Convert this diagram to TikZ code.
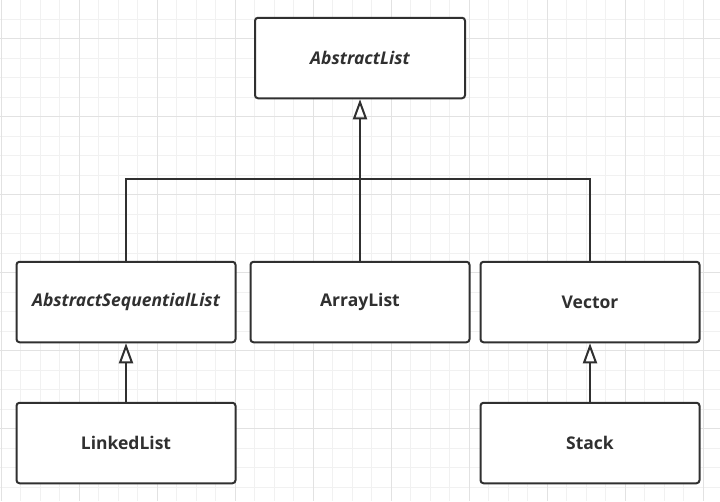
\documentclass[tikz,border=0pt]{standalone}
\usepackage{fontspec}
\setmainfont{Open Sans}
\usetikzlibrary{arrows.meta,positioning}
\definecolor{inkgray}{HTML}{303030}
\definecolor{gridminor}{HTML}{F1F1F1}
\definecolor{gridmajor}{HTML}{E2E2E2}
\tikzset{
  classbox/.style={draw=inkgray,line width=2pt,rounded corners=3pt,fill=white,
    minimum width=219pt,minimum height=80.5pt,text=inkgray,
    font=\bfseries\fontsize{17.5}{21}\selectfont},
  abstractbox/.style={classbox,font=\bfseries\itshape\fontsize{17.5}{21}\selectfont},
  inherit/.style={draw=inkgray,line width=2pt,
    -{Triangle[open,length=20pt,width=14pt,line width=2pt]}},
  plainline/.style={draw=inkgray,line width=2pt}
}
\begin{document}
\begin{tikzpicture}[x=1pt,y=-1pt]
            % Background grid
            \fill[white] (0,0) rectangle (720,501);
            \useasboundingbox (0,0) rectangle (720,501);
            \foreach \i in {0,...,36}
                \draw[gridminor,line width=1pt] (1.3+19.5*\i,0) -- (1.3+19.5*\i,501);
            \foreach \i in {0,...,25}
                \draw[gridminor,line width=1pt] (0,-0.3+19.5*\i) -- (720,-0.3+19.5*\i);
            \foreach \i in {0,...,9}
                \draw[gridmajor,line width=1pt] (1.3+78*\i,0) -- (1.3+78*\i,501);
            \foreach \i in {0,...,6}
                \draw[gridmajor,line width=1pt] (0,38.7+78*\i) -- (720,38.7+78*\i);
            % Classes
            \node[abstractbox,minimum width=210pt] (abstractlist) at (360,58) {AbstractList};
            \node[abstractbox] (sequential) at (126,302) {AbstractSequentialList};
            \node[classbox] (arraylist) at (360,302) {ArrayList};
            \node[classbox] (vector) at (590,302) {Vector};
            \node[classbox] (linkedlist) at (126,443) {LinkedList};
            \node[classbox] (stack) at (590,443) {Stack};
            % Inheritance
            \coordinate (bus) at (360,179.3);
            \draw[plainline] (sequential.north) |- (bus) -| (vector.north);
            \draw[inherit] (arraylist.north) -- (abstractlist.south);
            \draw[inherit] (linkedlist.north) -- (sequential.south);
            \draw[inherit] (stack.north) -- (vector.south);
\end{tikzpicture}
\end{document}
